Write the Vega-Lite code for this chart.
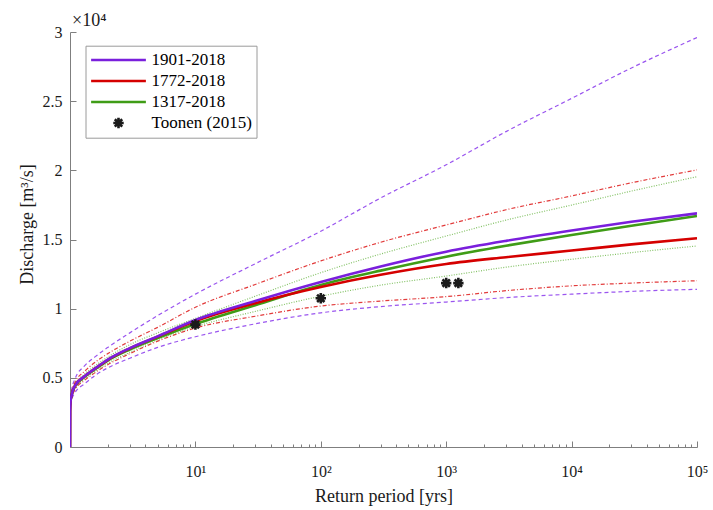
{
  "$schema": "https://vega.github.io/schema/vega-lite/v6.json",
  "width": 627,
  "height": 415,
  "autosize": {"type": "none"},
  "padding": {"left": 70, "top": 32, "right": 16, "bottom": 63},
  "background": "white",
  "title": {"text": "×10⁴", "anchor": "start", "frame": "group", "orient": "top", "offset": 5, "dx": 2, "dy": 25, "baseline": "alphabetic", "font": "Liberation Serif", "fontSize": 18, "fontWeight": "normal", "color": "#1a1a1a"},
  "config": {
    "view": {"stroke": null},
    "font": "Liberation Serif",
    "axis": {"grid": false, "labelFlush": false, "domainColor": "#7f7f7f", "tickColor": "#7f7f7f", "labelFont": "Liberation Serif", "labelFontSize": 16, "labelColor": "#1a1a1a", "titleFont": "Liberation Serif", "titleFontSize": 18, "titleFontWeight": "normal", "titleColor": "#1a1a1a"},
    "legend": {"title": null, "orient": "none", "legendX": 15.5, "legendY": 13.7, "direction": "vertical", "fillColor": "white", "strokeColor": "#9a9a9a", "padding": 4, "labelFont": "Liberation Serif", "labelFontSize": 17, "labelColor": "#000000", "symbolSize": 3000, "labelOffset": 4, "clipHeight": 20.5, "rowPadding": 0}
  },
  "datasets": {
    "curves": [
      {"T": 1, "1901-2018": 0, "1772-2018": 0, "1317-2018": 0, "1901-2018 lower": 0, "1901-2018 upper": 0, "1772-2018 lower": 0, "1772-2018 upper": 0, "1317-2018 lower": 0, "1317-2018 upper": 0},
      {"T": 1.002, "1901-2018": 2600, "1772-2018": 2600, "1317-2018": 2600, "1901-2018 lower": 2500, "1901-2018 upper": 2700, "1772-2018 lower": 2550, "1772-2018 upper": 2650, "1317-2018 lower": 2550, "1317-2018 upper": 2620},
      {"T": 1.01, "1901-2018": 3300, "1772-2018": 3300, "1317-2018": 3300, "1901-2018 lower": 3050, "1901-2018 upper": 3500, "1772-2018 lower": 3150, "1772-2018 upper": 3400, "1317-2018 lower": 3200, "1317-2018 upper": 3350},
      {"T": 1.03, "1901-2018": 3750, "1772-2018": 3750, "1317-2018": 3750, "1901-2018 lower": 3400, "1901-2018 upper": 4100, "1772-2018 lower": 3550, "1772-2018 upper": 3950, "1317-2018 lower": 3650, "1317-2018 upper": 3850},
      {"T": 1.1, "1901-2018": 4450, "1772-2018": 4450, "1317-2018": 4400, "1901-2018 lower": 3950, "1901-2018 upper": 4950, "1772-2018 lower": 4150, "1772-2018 upper": 4700, "1317-2018 lower": 4250, "1317-2018 upper": 4550},
      {"T": 1.3, "1901-2018": 5100, "1772-2018": 5100, "1317-2018": 5050, "1901-2018 lower": 4550, "1901-2018 upper": 5850, "1772-2018 lower": 4800, "1772-2018 upper": 5450, "1317-2018 lower": 4900, "1317-2018 upper": 5250},
      {"T": 1.6, "1901-2018": 5700, "1772-2018": 5700, "1317-2018": 5650, "1901-2018 lower": 5200, "1901-2018 upper": 6550, "1772-2018 lower": 5400, "1772-2018 upper": 6150, "1317-2018 lower": 5500, "1317-2018 upper": 5900},
      {"T": 2, "1901-2018": 6320, "1772-2018": 6300, "1317-2018": 6250, "1901-2018 lower": 5720, "1901-2018 upper": 7200, "1772-2018 lower": 5950, "1772-2018 upper": 6750, "1317-2018 lower": 6050, "1317-2018 upper": 6500},
      {"T": 3, "1901-2018": 7150, "1772-2018": 7130, "1317-2018": 7050, "1901-2018 lower": 6420, "1901-2018 upper": 8250, "1772-2018 lower": 6750, "1772-2018 upper": 7650, "1317-2018 lower": 6850, "1317-2018 upper": 7400},
      {"T": 5, "1901-2018": 8000, "1772-2018": 7980, "1317-2018": 7880, "1901-2018 lower": 7200, "1901-2018 upper": 9500, "1772-2018 lower": 7650, "1772-2018 upper": 8650, "1317-2018 lower": 7750, "1317-2018 upper": 8250},
      {"T": 10, "1901-2018": 9180, "1772-2018": 9110, "1317-2018": 8890, "1901-2018 lower": 7970, "1901-2018 upper": 11050, "1772-2018 lower": 8600, "1772-2018 upper": 10100, "1317-2018 lower": 8700, "1317-2018 upper": 9300},
      {"T": 30, "1901-2018": 10550, "1772-2018": 10400, "1317-2018": 10250, "1901-2018 lower": 8900, "1901-2018 upper": 13250, "1772-2018 lower": 9450, "1772-2018 upper": 11750, "1317-2018 lower": 9800, "1317-2018 upper": 10900},
      {"T": 100, "1901-2018": 11930, "1772-2018": 11570, "1317-2018": 11710, "1901-2018 lower": 9700, "1901-2018 upper": 15600, "1772-2018 lower": 10190, "1772-2018 upper": 13450, "1317-2018 lower": 10900, "1317-2018 upper": 12600},
      {"T": 300, "1901-2018": 13050, "1772-2018": 12450, "1317-2018": 12750, "1901-2018 lower": 10150, "1901-2018 upper": 18000, "1772-2018 lower": 10550, "1772-2018 upper": 14800, "1317-2018 lower": 11700, "1317-2018 upper": 13950},
      {"T": 1000, "1901-2018": 14120, "1772-2018": 13230, "1317-2018": 13760, "1901-2018 lower": 10480, "1901-2018 upper": 20400, "1772-2018 lower": 10870, "1772-2018 upper": 16050, "1317-2018 lower": 12360, "1317-2018 upper": 15250},
      {"T": 3000, "1901-2018": 14900, "1772-2018": 13720, "1317-2018": 14550, "1901-2018 lower": 10800, "1901-2018 upper": 22800, "1772-2018 lower": 11300, "1772-2018 upper": 17150, "1317-2018 lower": 13000, "1317-2018 upper": 16400},
      {"T": 10000, "1901-2018": 15650, "1772-2018": 14200, "1317-2018": 15330, "1901-2018 lower": 11050, "1901-2018 upper": 25200, "1772-2018 lower": 11650, "1772-2018 upper": 18150, "1317-2018 lower": 13570, "1317-2018 upper": 17490},
      {"T": 30000, "1901-2018": 16280, "1772-2018": 14650, "1317-2018": 16000, "1901-2018 lower": 11250, "1901-2018 upper": 27400, "1772-2018 lower": 11850, "1772-2018 upper": 19100, "1317-2018 lower": 14050, "1317-2018 upper": 18500},
      {"T": 100000, "1901-2018": 16890, "1772-2018": 15090, "1317-2018": 16700, "1901-2018 lower": 11400, "1901-2018 upper": 29600, "1772-2018 lower": 12020, "1772-2018 upper": 20030, "1317-2018 lower": 14530, "1317-2018 upper": 19540}
    ],
    "toonen": [
      {"T": 10, "Q": 8850, "series": "Toonen (2015)"},
      {"T": 100, "Q": 10750, "series": "Toonen (2015)"},
      {"T": 1000, "Q": 11850, "series": "Toonen (2015)"},
      {"T": 1250, "Q": 11850, "series": "Toonen (2015)"}
    ]
  },
  "encoding": {
    "y": {
      "field": "Q",
      "type": "quantitative",
      "scale": {"domain": [0, 30000], "nice": false, "zero": false},
      "axis": {"values": [0, 5000, 10000, 15000, 20000, 25000, 30000], "labelExpr": "datum.value / 10000", "tickSize": -6, "labelPadding": 14, "title": "Discharge [m³/s]", "titlePadding": 6, "titleY": 192}
    }
  },
  "layer": [
    {
      "data": {"name": "curves"},
      "transform": [{"fold": ["1901-2018 lower", "1901-2018 upper", "1772-2018 lower", "1772-2018 upper", "1317-2018 lower", "1317-2018 upper"], "as": ["bound", "Q"]}],
      "mark": {"type": "line", "interpolate": "monotone", "strokeWidth": 1.2, "clip": true},
      "encoding": {
        "x": {
          "field": "T",
          "type": "quantitative",
          "scale": {"type": "log", "domain": [1, 100000], "nice": false},
          "axis": {"orient": "bottom", "values": [2, 3, 4, 5, 6, 7, 8, 9, 20, 30, 40, 50, 60, 70, 80, 90, 200, 300, 400, 500, 600, 700, 800, 900, 2000, 3000, 4000, 5000, 6000, 7000, 8000, 9000, 20000, 30000, 40000, 50000, 60000, 70000, 80000, 90000], "labels": false, "domain": false, "title": null, "tickSize": -3}
        },
        "stroke": {
          "field": "bound",
          "type": "nominal",
          "scale": {"domain": ["1901-2018 lower", "1901-2018 upper", "1772-2018 lower", "1772-2018 upper", "1317-2018 lower", "1317-2018 upper"], "range": ["#9a55ef", "#9a55ef", "#e23c3c", "#e23c3c", "#84c266", "#84c266"]},
          "legend": null
        },
        "strokeDash": {
          "field": "bound",
          "type": "nominal",
          "scale": {"domain": ["1901-2018 lower", "1901-2018 upper", "1772-2018 lower", "1772-2018 upper", "1317-2018 lower", "1317-2018 upper"], "range": [[4, 3], [4, 3], [4, 2, 1, 2], [4, 2, 1, 2], [1, 1.5], [1, 1.5]]},
          "legend": null
        }
      }
    },
    {
      "data": {"name": "curves"},
      "transform": [{"fold": ["1317-2018", "1772-2018", "1901-2018"], "as": ["series", "Q"]}],
      "mark": {"type": "line", "interpolate": "monotone", "clip": true},
      "encoding": {
        "x": {
          "field": "T",
          "type": "quantitative",
          "scale": {"type": "log", "domain": [1, 100000], "nice": false},
          "axis": {"orient": "bottom", "values": [10, 100, 1000, 10000, 100000], "labelExpr": "datum.value == 10 ? '10¹' : datum.value == 100 ? '10²' : datum.value == 1000 ? '10³' : datum.value == 10000 ? '10⁴' : '10⁵'", "tickSize": -6, "labelPadding": 22, "title": "Return period [yrs]", "titlePadding": 8}
        },
        "color": {
          "field": "series",
          "type": "nominal",
          "scale": {"domain": ["1901-2018", "1772-2018", "1317-2018", "Toonen (2015)"], "range": ["#7a1fdc", "#d50000", "#3f9c16", "#1a1a1a"]}
        },
        "strokeWidth": {
          "field": "series",
          "type": "nominal",
          "scale": {"domain": ["1901-2018", "1772-2018", "1317-2018", "Toonen (2015)"], "range": [2.6, 2.6, 2.6, 0.55]}
        }
      }
    },
    {
      "data": {"name": "toonen"},
      "mark": {"type": "point", "filled": false, "size": 3000, "opacity": 1},
      "encoding": {
        "x": {"field": "T", "type": "quantitative", "scale": {"type": "log", "domain": [1, 100000], "nice": false}, "axis": null},
        "color": {
          "field": "series",
          "type": "nominal",
          "scale": {"domain": ["1901-2018", "1772-2018", "1317-2018", "Toonen (2015)"], "range": ["#7a1fdc", "#d50000", "#3f9c16", "#1a1a1a"]}
        },
        "shape": {
          "field": "series",
          "type": "nominal",
          "scale": {"domain": ["1901-2018", "1772-2018", "1317-2018", "Toonen (2015)"], "range": ["stroke", "stroke", "stroke", "M-0.19,0L0.19,0M0,-0.19L0,0.19M-0.135,-0.135L0.135,0.135M-0.135,0.135L0.135,-0.135"]}
        },
        "strokeWidth": {
          "field": "series",
          "type": "nominal",
          "scale": {"domain": ["1901-2018", "1772-2018", "1317-2018", "Toonen (2015)"], "range": [2.6, 2.6, 2.6, 0.55]}
        }
      }
    }
  ],
  "resolve": {"axis": {"x": "independent"}}
}
